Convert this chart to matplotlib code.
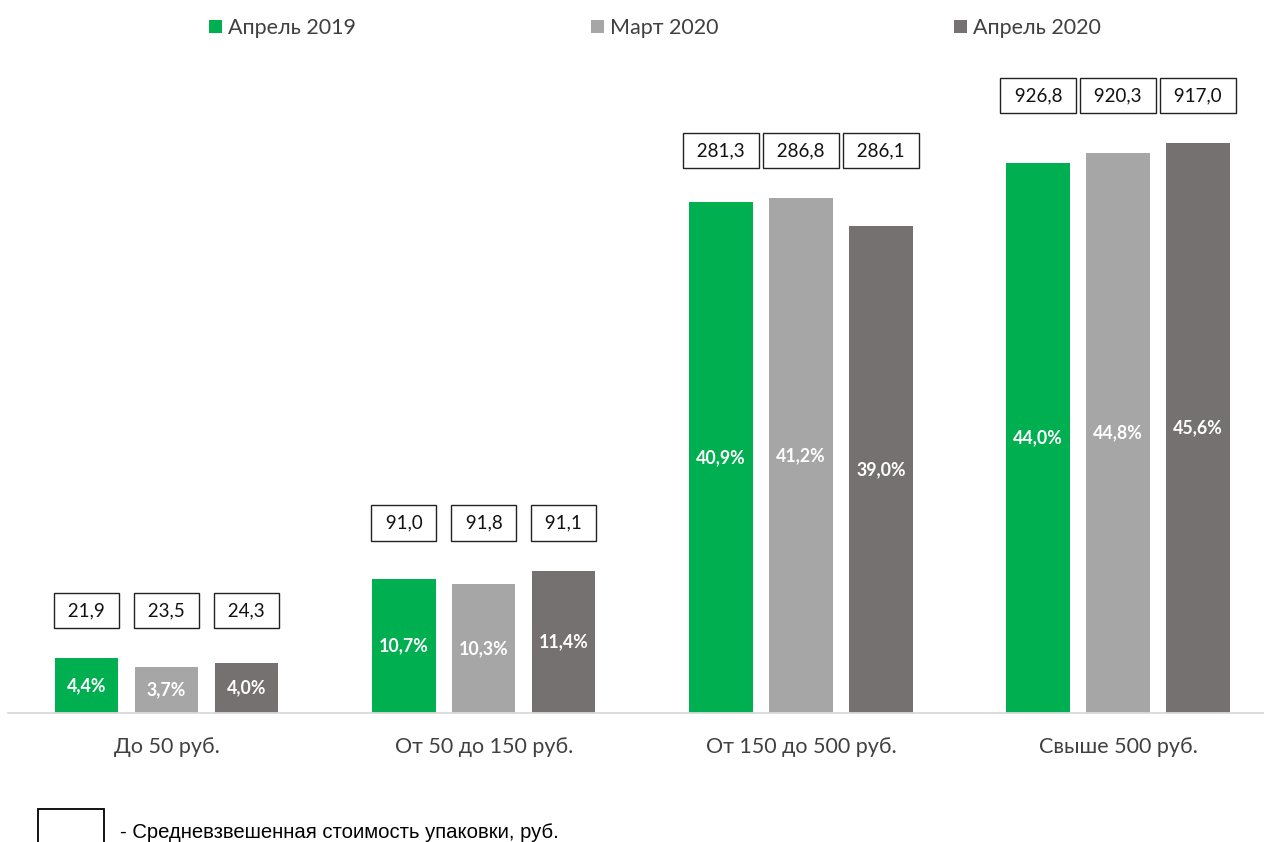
import numpy as np
import matplotlib.pyplot as plt
from matplotlib.patches import Rectangle

categories = ['До 50 руб.', 'От 50 до 150 руб.', 'От 150 до 500 руб.', 'Свыше 500 руб.']
series = ['Апрель 2019', 'Март 2020', 'Апрель 2020']
shares = [
    [4.4, 10.7, 40.9, 44.0],
    [3.7, 10.3, 41.2, 44.8],
    [4.0, 11.4, 39.0, 45.6],
]
prices = [
    ['21,9', '91,0', '281,3', '926,8'],
    ['23,5', '91,8', '286,8', '920,3'],
    ['24,3', '91,1', '286,1', '917,0'],
]
colors = ['#00b050', '#a6a6a6', '#767171']

plt.rcParams['font.family'] = ['Lato', 'DejaVu Sans']

fig = plt.figure(figsize=(12.64, 8.42), dpi=100)
ax = fig.add_axes([8 / 1264, 129 / 842, 1 - 8 / 1264, (713 - 60) / 842])

x = np.arange(len(categories))
w = 0.2
step = 0.252
for i, s in enumerate(series):
    pos = x + (i - 1) * step
    ax.bar(pos, shares[i], width=w, color=colors[i], label=s, zorder=2)
    for xp, v in zip(pos, shares[i]):
        ax.text(xp, v / 2, f'{v:.1f}%'.replace('.', ','), ha='center', va='center',
                color='white', fontsize=12.8, fontweight='bold')

# boxes with average pack price above each group
for j in range(len(categories)):
    top = max(shares[i][j] for i in range(len(series))) + 3.8
    for i in range(len(series)):
        ax.text(x[j] + (i - 1) * step, top, ' ' + prices[i][j] + ' ', ha='center', va='center',
                fontsize=13.5, color='#111111',
                bbox=dict(boxstyle='square,pad=0.5', fc='white', ec='#222222', lw=1))

ax.set_xlim(-0.5, 3.46)
ax.set_ylim(0, (713 - 60) / 12.5)
ax.set_xticks(x)
ax.set_xticklabels(categories, fontsize=15.5, color='#404040')
ax.tick_params(axis='x', length=0, pad=17)
ax.set_yticks([])
for sp in ['top', 'right', 'left']:
    ax.spines[sp].set_visible(False)
ax.spines['bottom'].set_color('#d9d9d9')
ax.spines['bottom'].set_linewidth(1.3)

fig.legend(loc='center', bbox_to_anchor=(655 / 1264, 1 - 28 / 842), ncol=3, frameon=False,
           fontsize=15.5, handlelength=0.6, handleheight=0.6, handletextpad=0.3,
           columnspacing=10.9, labelcolor='#404040')

fig.patches.append(Rectangle((38 / 1264, -0.01), 66 / 1264, 41 / 842,
                             transform=fig.transFigure, fill=False, ec='black', lw=1.3))
fig.text(120 / 1264, 1 - 832 / 842, '- Средневзвешенная стоимость упаковки, руб.',
         fontsize=14.6, family=['Liberation Sans', 'DejaVu Sans'], va='center', color='black')

fig.savefig('out.png', dpi=100)
